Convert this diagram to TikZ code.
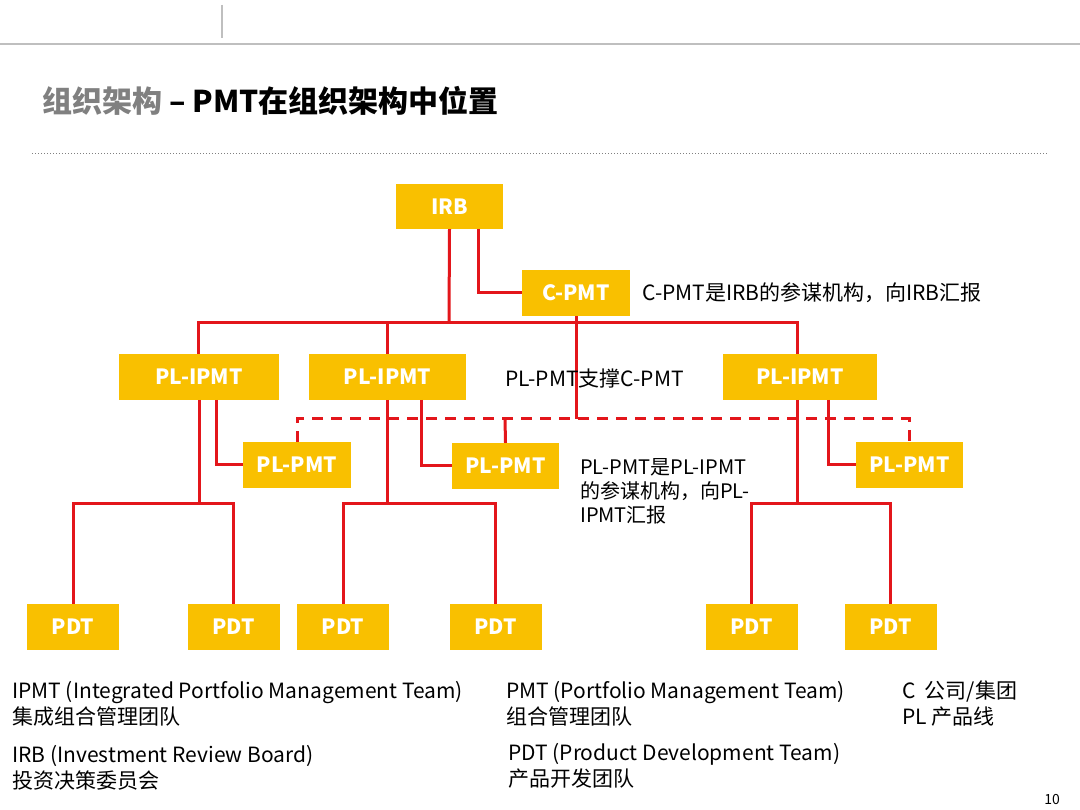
\documentclass[tikz,border=0pt]{standalone}
\usepackage{fontspec}
\setmainfont{Noto Sans CJK SC}
\begin{document}
\begin{tikzpicture}[x=1pt,y=-1pt,
 box/.style={fill=yel,text=white,font=\bfseries\fontsize{21}{21}\selectfont,inner sep=0pt,anchor=center},
 ln/.style={draw=rd,line width=3pt},
 lbl/.style={font=\fontsize{21}{26}\selectfont,anchor=west,inner sep=0pt,align=left}]
\definecolor{yel}{HTML}{F9C000}
\definecolor{rd}{HTML}{E3161B}
\useasboundingbox (0,0) rectangle (1080,810);
\fill[white] (0,0) rectangle (1080,810);
\draw[gray!50,line width=1.5pt] (0,44) -- (1080,44);
\draw[gray!50,line width=1.5pt] (222,5) -- (222,38);
\draw[gray,dotted,line width=1pt] (32,154) -- (1048,154);
\node[anchor=west,inner sep=0pt,font=\bfseries\fontsize{30}{30}\selectfont] (title) at (42,101) {\textcolor{gray}{组织架构} – PMT在组织架构中位置};
% boxes
\node[box,minimum width=107,minimum height=45] (irb) at (449.5,206.5) {IRB};
\node[box,minimum width=108,minimum height=46] (cpmt) at (576,293) {C-PMT};
\node[box,minimum width=160,minimum height=46] (ip1) at (199,377) {PL-IPMT};
\node[box,minimum width=157,minimum height=46] (ip2) at (387.5,377) {PL-IPMT};
\node[box,minimum width=154,minimum height=46] (ip3) at (800,377) {PL-IPMT};
\node[box,minimum width=108,minimum height=46] (pm1) at (297,465) {PL-PMT};
\node[box,minimum width=107,minimum height=46] (pm2) at (505.5,466) {PL-PMT};
\node[box,minimum width=107,minimum height=46] (pm3) at (909.5,465) {PL-PMT};
\foreach \n/\x in {d1/73,d2/233.5,d3/343,d4/495.5,d5/751.5,d6/890.5}
  \node[box,minimum width=92,minimum height=46] (\n) at (\x,627) {PDT};
% connectors
\draw[ln] (irb.south) -- (449,323);
\draw[ln] (198,354) -- (198,323) -- (797,323) -- (797,354);
\draw[ln] (387,323) -- (387,354);
\draw[ln] (478,229) |- (cpmt.west);
\draw[ln] (cpmt.south) -- (576,419);
\draw[ln,dash pattern=on 11pt off 8pt] (297,442) -- (297,419) -- (909,419) -- (909,442);
\draw[ln] (505,419) -- (pm2.north);
\draw[ln] (216,400) |- (pm1.west);
\draw[ln] (421,400) |- (pm2.west);
\draw[ln] (828,400) |- (pm3.west);
\draw[ln] (199,400) -- (199,503);
\draw[ln] (d1.north) |- (233.5,503) -- (d2.north);
\draw[ln] (387,400) -- (387,503);
\draw[ln] (d3.north) |- (495.5,503) -- (d4.north);
\draw[ln] (797,400) -- (797,503);
\draw[ln] (d5.north) |- (890.5,503) -- (d6.north);
% labels
\node[lbl] (t1) at (642,293) {C-PMT是IRB的参谋机构，向IRB汇报};
\node[lbl] (t2) at (505,379) {PL-PMT支撑C-PMT};
\node[lbl,font=\fontsize{20}{24}\selectfont] (t3) at (580,491) {PL-PMT是PL-IPMT\\的参谋机构，向PL-\\IPMT汇报};
\node[lbl] (l1) at (12,704) {IPMT (Integrated Portfolio Management Team)\\集成组合管理团队};
\node[lbl] (l2) at (12,768) {IRB (Investment Review Board)\\投资决策委员会};
\node[lbl] (l3) at (506,704) {PMT (Portfolio Management Team)\\组合管理团队};
\node[lbl] (l4) at (508,766) {PDT (Product Development Team)\\产品开发团队};
\node[lbl] (l5) at (902,704) {C\ \ 公司/集团\\PL 产品线};
\node[anchor=east,inner sep=0pt,font=\fontsize{14}{14}\selectfont] (pg) at (1060,800) {10};
\end{tikzpicture}
\end{document}
